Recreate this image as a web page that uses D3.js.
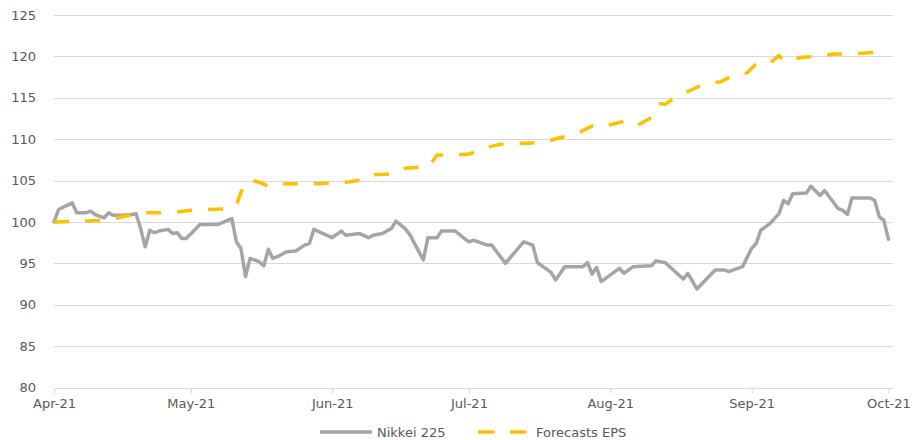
<!DOCTYPE html>
<html>
<head>
<meta charset="utf-8">
<script src="https://cdn.jsdelivr.net/npm/d3@7"></script>
<style>
  html, body { margin: 0; padding: 0; background: #ffffff; }
  svg { display: block; }
  text { font-family: "DejaVu Sans", sans-serif; fill: #595959; }
</style>
</head>
<body>
<svg id="chart" width="915" height="440"></svg>
<script>
// ---- data ----
const tickDates = ["2021-04-01","2021-05-01","2021-06-01","2021-07-01","2021-08-01","2021-09-01","2021-10-01"];
const tickLabels = ["Apr-21","May-21","Jun-21","Jul-21","Aug-21","Sep-21","Oct-21"];
const yTicks = [80, 85, 90, 95, 100, 105, 110, 115, 120, 125];

const nikkeiDates = ["2021-04-01","2021-04-02","2021-04-05","2021-04-06","2021-04-08","2021-04-09","2021-04-10","2021-04-12","2021-04-13","2021-04-14","2021-04-16","2021-04-18","2021-04-19","2021-04-20","2021-04-21","2021-04-22","2021-04-23","2021-04-24","2021-04-26","2021-04-27","2021-04-28","2021-04-29","2021-04-30",
"2021-05-03","2021-05-07","2021-05-10","2021-05-11","2021-05-12","2021-05-13","2021-05-14","2021-05-16","2021-05-17","2021-05-18","2021-05-19","2021-05-20","2021-05-22","2021-05-24","2021-05-26","2021-05-27","2021-05-28","2021-05-30",
"2021-06-01","2021-06-03","2021-06-04","2021-06-07","2021-06-09","2021-06-10","2021-06-12","2021-06-14","2021-06-15","2021-06-17","2021-06-18","2021-06-21","2021-06-22","2021-06-24","2021-06-25","2021-06-28","2021-06-30",
"2021-07-01","2021-07-02","2021-07-05","2021-07-06","2021-07-09","2021-07-13","2021-07-15","2021-07-16","2021-07-19","2021-07-20","2021-07-22","2021-07-26","2021-07-27","2021-07-28","2021-07-29","2021-07-30",
"2021-08-03","2021-08-04","2021-08-06","2021-08-10","2021-08-11","2021-08-13","2021-08-17","2021-08-18","2021-08-20","2021-08-24","2021-08-26","2021-08-27","2021-08-30",
"2021-09-01","2021-09-02","2021-09-03","2021-09-05","2021-09-07","2021-09-08","2021-09-09","2021-09-10","2021-09-13","2021-09-14","2021-09-16","2021-09-17","2021-09-20","2021-09-21","2021-09-22","2021-09-23","2021-09-27","2021-09-28","2021-09-29","2021-09-30","2021-10-01"];
const nikkeiValues = [100.0,101.5,102.3,101.1,101.1,101.3,100.9,100.5,101.1,100.8,100.8,100.9,101.0,99.2,97.0,99.0,98.7,98.9,99.1,98.6,98.7,98.0,98.0,
99.7,99.7,100.4,97.6,96.8,93.4,95.6,95.2,94.7,96.7,95.6,95.8,96.4,96.5,97.2,97.4,99.1,98.6,
98.1,98.9,98.4,98.6,98.1,98.4,98.6,99.2,100.1,99.2,98.5,95.4,98.1,98.1,98.9,98.9,98.0,
97.6,97.8,97.2,97.2,95.0,97.6,97.2,95.1,93.9,93.0,94.6,94.6,95.1,93.7,94.5,92.8,
94.4,93.8,94.6,94.7,95.3,95.1,93.1,93.8,91.9,94.2,94.2,94.0,94.6,
96.8,97.4,99.0,99.8,101.0,102.6,102.2,103.4,103.5,104.3,103.2,103.8,101.6,101.4,100.9,102.9,102.9,102.6,100.6,100.2,97.9];

const epsDates = ["2021-04-01","2021-04-12","2021-04-15","2021-04-19","2021-04-21","2021-04-25","2021-04-28",
"2021-05-01","2021-05-05","2021-05-09","2021-05-11","2021-05-12","2021-05-13","2021-05-14","2021-05-16","2021-05-18","2021-05-19","2021-05-21","2021-05-25","2021-05-28","2021-05-31",
"2021-06-04","2021-06-08","2021-06-09","2021-06-10","2021-06-14","2021-06-16","2021-06-17","2021-06-20","2021-06-22","2021-06-23","2021-06-24","2021-06-28",
"2021-07-01","2021-07-03","2021-07-04","2021-07-08","2021-07-11","2021-07-14","2021-07-18","2021-07-21","2021-07-24","2021-07-27","2021-07-28","2021-07-30",
"2021-08-02","2021-08-05","2021-08-07","2021-08-10","2021-08-11","2021-08-12","2021-08-13","2021-08-16","2021-08-19","2021-08-22","2021-08-25","2021-08-28","2021-08-31",
"2021-09-02","2021-09-04","2021-09-05","2021-09-07","2021-09-08","2021-09-12","2021-09-16","2021-09-19","2021-09-23","2021-09-26","2021-09-30","2021-10-01"];
const epsValues = [100.0,100.2,100.5,101.0,101.1,101.1,101.2,
101.4,101.5,101.6,102.0,103.6,104.7,105.1,104.8,104.3,104.3,104.6,104.6,104.6,104.7,
104.8,105.1,105.6,105.7,105.8,106.4,106.5,106.6,106.6,107.3,108.1,108.1,
108.2,108.6,108.9,109.4,109.5,109.5,109.7,110.2,110.5,111.3,111.6,111.4,
111.9,112.3,111.7,112.6,113.9,114.3,114.2,115.3,116.0,116.8,116.9,117.7,118.0,
119.1,119.4,119.2,120.1,119.4,119.9,120.0,120.3,120.3,120.4,120.6,120.7];

const seriesNames = ["Nikkei 225", "Forecasts EPS"];
const seriesColors = ["#A5A5A5", "#FFC000"];

// ---- chart ----
const parse = d3.utcParse("%Y-%m-%d");
const svg = d3.select("#chart");
const plotLeft = 54, plotRight = 893, plotTop = 15, plotBottom = 387.5;

const x = d3.scaleUtc()
  .domain([parse("2021-04-01"), parse("2021-10-02")])
  .range([plotLeft, plotRight]);
const y = d3.scaleLinear().domain([80, 125]).range([plotBottom, plotTop]);

// gridlines
svg.append("g").selectAll("line")
  .data(yTicks.filter(v => v !== 80))
  .join("line")
  .attr("x1", plotLeft).attr("x2", plotRight)
  .attr("y1", d => Math.round(y(d)) + 0.5).attr("y2", d => Math.round(y(d)) + 0.5)
  .attr("stroke", "#D9D9D9").attr("stroke-width", 1);

// y axis labels
const yAxis = d3.axisLeft(y).tickValues(yTicks).tickSize(0).tickPadding(18);
const gy = svg.append("g").attr("transform", `translate(${plotLeft},0)`).call(yAxis);
gy.select(".domain").remove();
gy.selectAll("text").style("font-size", "13px").style("fill", "#595959")
  .style("font-family", "DejaVu Sans, sans-serif");

// x axis
const xAxis = d3.axisBottom(x)
  .tickValues(tickDates.map(parse))
  .tickFormat((d, i) => tickLabels[i])
  .tickSize(5).tickSizeOuter(0).tickPadding(5);
const gx = svg.append("g").attr("transform", `translate(0,${Math.round(plotBottom) + 0.5})`).call(xAxis);
gx.select(".domain").attr("stroke", "#D9D9D9").attr("d", `M${plotLeft},0H${plotRight}`);
gx.selectAll(".tick line").attr("stroke", "#D9D9D9");
gx.selectAll("text").style("font-size", "13px").style("fill", "#595959")
  .style("font-family", "DejaVu Sans, sans-serif");

// lines
const line = d3.line().x(d => x(d[0])).y(d => y(d[1])).curve(d3.curveLinear);
const nikkei = nikkeiDates.map((d, i) => [parse(d), nikkeiValues[i]]);
const eps = epsDates.map((d, i) => [parse(d), epsValues[i]]);

svg.append("path").datum(nikkei)
  .attr("d", line).attr("fill", "none")
  .attr("stroke", seriesColors[0]).attr("stroke-width", 3.5)
  .attr("stroke-linejoin", "round").attr("stroke-linecap", "round");

svg.append("path").datum(eps)
  .attr("d", line).attr("fill", "none")
  .attr("stroke", seriesColors[1]).attr("stroke-width", 3.5)
  .attr("stroke-dasharray", "15,16")
  .attr("stroke-linejoin", "round").attr("stroke-linecap", "butt");

// legend
const lg = svg.append("g").attr("transform", "translate(0,432)");
lg.append("line").attr("x1", 320).attr("x2", 372).attr("y1", 0).attr("y2", 0)
  .attr("stroke", seriesColors[0]).attr("stroke-width", 3.5);
lg.append("text").attr("x", 377).attr("y", 0).attr("dy", "0.35em")
  .style("font-size", "13px").text(seriesNames[0]);
lg.append("line").attr("x1", 478).attr("x2", 526).attr("y1", 0).attr("y2", 0)
  .attr("stroke", seriesColors[1]).attr("stroke-width", 3.5)
  .attr("stroke-dasharray", "16,16");
lg.append("text").attr("x", 536).attr("y", 0).attr("dy", "0.35em")
  .style("font-size", "13px").text(seriesNames[1]);
</script>
</body>
</html>
